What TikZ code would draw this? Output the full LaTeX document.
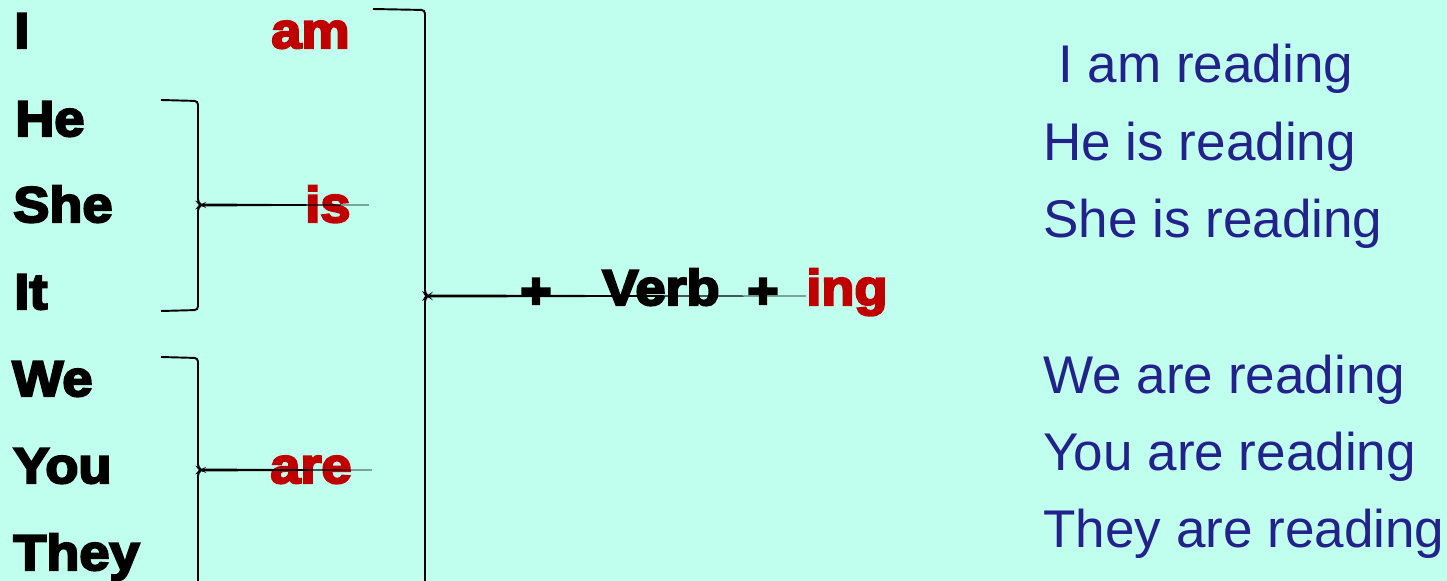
\documentclass[tikz,border=0pt]{standalone}
\usepackage{fontspec}
\setmainfont{Liberation Sans}
\newfontfamily\heavyfont[FakeBold=4.5,FakeStretch=1.08]{Liberation Sans Bold}
\usetikzlibrary{positioning, calc}
\definecolor{mint}{RGB}{192,255,238}
\definecolor{verbred}{RGB}{192,0,0}
\definecolor{inkblue}{RGB}{35,34,140}
\tikzset{
  pron/.style={anchor=base west, inner sep=0pt, font=\heavyfont\fontsize{28.5}{30}\selectfont},
  aux/.style={pron, text=verbred},
  sent/.style={anchor=base west, inner sep=0pt, text=inkblue, font=\fontsize{30.2}{32}\selectfont},
  brace/.style={draw=black, line width=1.1pt, rounded corners=2pt},
  tail/.style={fill=black}
}

\begin{document}
\begin{tikzpicture}[x=0.02cm, y=-0.02cm]

\fill[mint] (0,0) rectangle (1447,581);
\useasboundingbox (0,0) rectangle (1447,581);
\clip (0,0) rectangle (1447,581);

% pronouns
\node[pron] (pI) at (14,48) {I};
\node[pron] (pHe) at (15,136) {He};
\node[pron] (pShe) at (13,222) {She};
\node[pron] (pIt) at (14,309) {It};
\node[pron] (pWe) at (12,396) {We};
\node[pron] (pYou) at (13,483) {You};
\node[pron] (pThey) at (13,570) {They};

% to be
\node[aux] (am) at (271,48) {am};
\node[aux] (is) at (305,222) {is};
\node[aux] (are) at (270,483) {are};

% formula
\node[pron, anchor=base] (plusA) at (536,308) {+};
\node[pron] (verb) at (602,305) {Verb};
\node[pron, anchor=base] (plusB) at (763,308) {+};
\node[aux] (ing) at (806,305) {ing};

% brackets
\coordinate (tipIs) at (202,205);
\coordinate (tipAre) at (202,470);
\coordinate (tipVerb) at (428,296);
\draw[brace] (161,100) -- (198,101) -- (198,203) -- (tipIs) -- (198,207) -- (198,310) -- (161,311);
\draw[brace] (161,357) -- (198,358) -- (198,468) -- (tipAre) -- (198,472) -- (198,600);
\draw[brace] (373,9) -- (425,10) -- (425,294) -- (tipVerb) -- (425,298) -- (425,600);

% tails
\fill[tail] ($(tipIs)+(0,-1.5)$) -- ($(is.east |- tipIs)+(18,-0.3)$) -- ($(is.east |- tipIs)+(18,0.3)$) -- ($(tipIs)+(0,1.5)$) -- cycle;
\fill[tail] ($(tipAre)+(0,-1.5)$) -- ($(are.east |- tipAre)+(20,-0.3)$) -- ($(are.east |- tipAre)+(20,0.3)$) -- ($(tipAre)+(0,1.5)$) -- cycle;
\fill[tail] ($(tipVerb)+(0,-1.5)$) -- ($(ing.west |- tipVerb)+(0,-0.3)$) -- ($(ing.west |- tipVerb)+(0,0.3)$) -- ($(tipVerb)+(0,1.5)$) -- cycle;

% sentences
\node[sent] (sI) at (1058,83) {I am reading};
\node[sent] (sHe) at (1043,160) {He is reading};
\node[sent] (sShe) at (1043,237) {She is reading};
\node[sent] (sWe) at (1043,393) {We are reading};
\node[sent] (sYou) at (1043,470) {You are reading};
\node[sent] (sThey) at (1043,547) {They are reading};

\end{tikzpicture}
\end{document}
